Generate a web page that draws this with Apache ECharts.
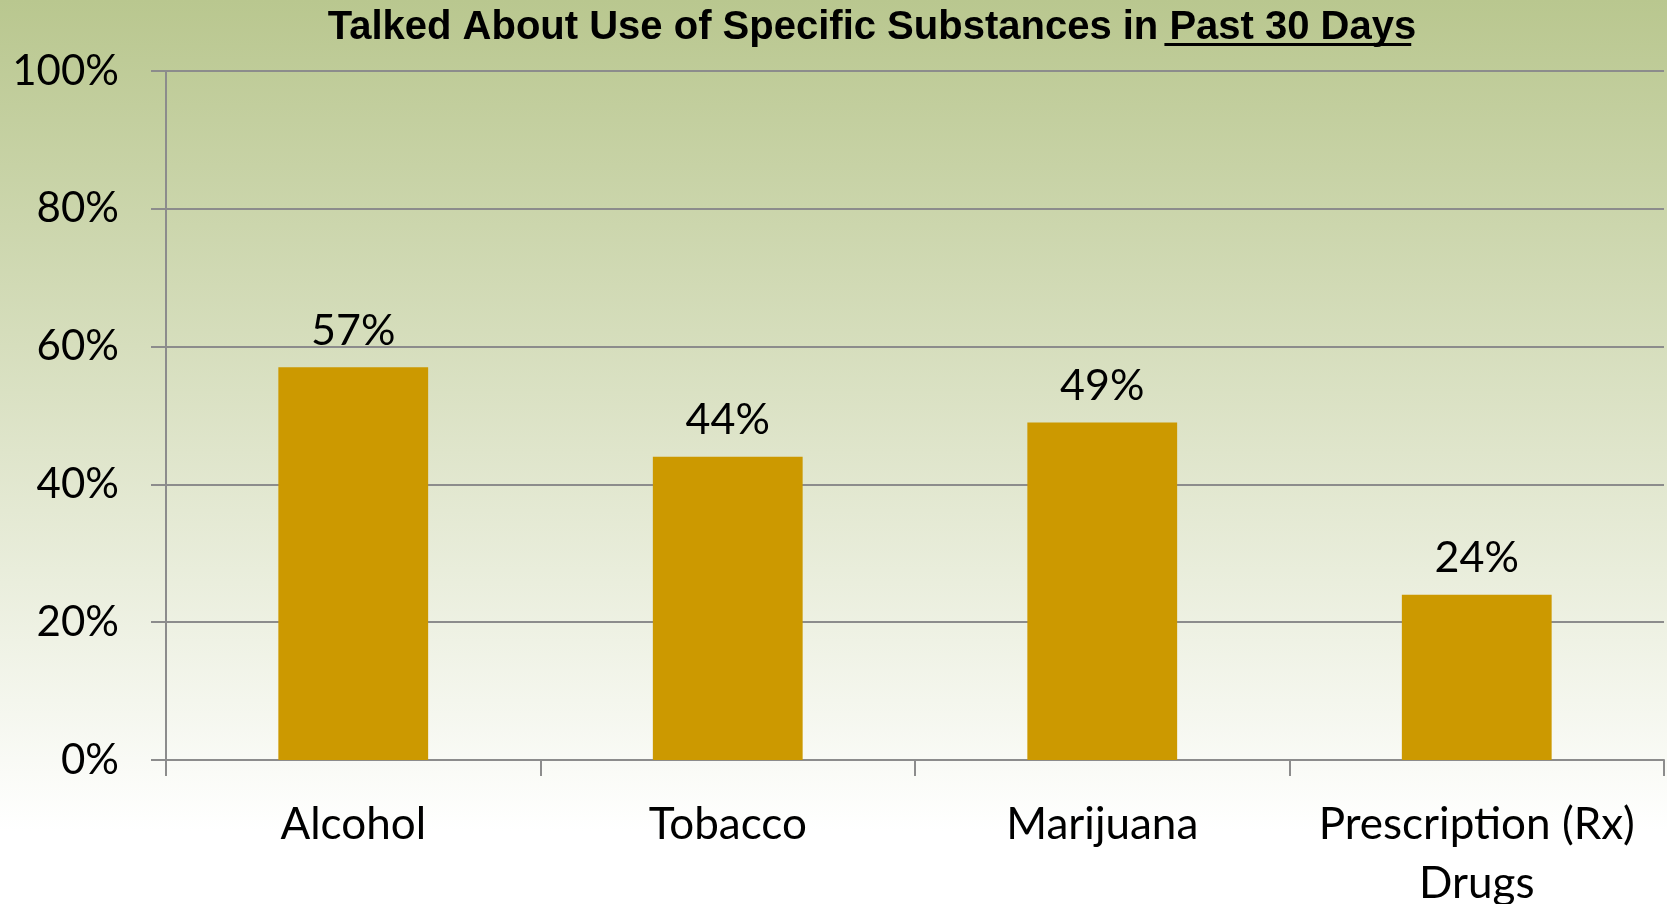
<!DOCTYPE html>
<html>
<head>
<meta charset="utf-8">
<script src="https://cdn.jsdelivr.net/npm/echarts@6/dist/echarts.min.js"></script>
<style>
  html, body { margin: 0; padding: 0; }
  #chart { width: 1667px; height: 904px; }
</style>
</head>
<body>
<div id="chart"></div>
<script>
// Share of respondents who talked about each substance in the past 30 days
const categories = ['Alcohol', 'Tobacco', 'Marijuana', 'Prescription (Rx)\nDrugs'];
const values = [57, 44, 49, 24];
const yTicks = [0, 20, 40, 60, 80, 100];

const titleMain = 'Talked About Use of Specific Substances in ';
const titleUnderlined = 'Past 30 Days';
const titleFamily = '"Liberation Sans Narrow", "Liberation Sans", sans-serif';
const titleSize = 40;
const labelFont = 'Lato, "Open Sans", sans-serif';

const chart = echarts.init(document.getElementById('chart'));

// measure title pieces so the underline sits under the last part only
const ctx = document.createElement('canvas').getContext('2d');
ctx.font = 'bold ' + titleSize + 'px ' + titleFamily;
const wMain = ctx.measureText(titleMain).width;
const wUnder = ctx.measureText(titleUnderlined).width;
const titleCenter = 867;
const titleLeft = titleCenter - (wMain + wUnder) / 2;

chart.setOption({
  backgroundColor: {
    type: 'linear', x: 0, y: 0, x2: 0, y2: 1,
    colorStops: [
      { offset: 0, color: '#b9c78f' },
      { offset: 0.5, color: '#dfe5cb' },
      { offset: 0.92, color: '#ffffff' },
      { offset: 1, color: '#ffffff' }
    ]
  },
  animation: false,
  title: {
    text: titleMain + titleUnderlined,
    left: titleLeft,
    top: 3,
    textStyle: {
      fontFamily: titleFamily,
      fontWeight: 'bold',
      fontSize: titleSize,
      color: '#000000'
    }
  },
  graphic: [{
    type: 'rect',
    shape: { x: titleLeft + wMain, y: 43, width: wUnder, height: 3 },
    style: { fill: '#000000' }
  }],
  grid: { left: 166, right: 3, top: 71, bottom: 144, outerBoundsMode: 'none' },
  xAxis: {
    type: 'category',
    data: categories,
    axisLine: { lineStyle: { color: '#8c8c8c', width: 2 } },
    axisTick: { show: true, length: 16, lineStyle: { color: '#8c8c8c', width: 2 } },
    axisLabel: {
      color: '#000000', fontFamily: labelFont, fontSize: 44,
      margin: 35, lineHeight: 59, interval: 0
    }
  },
  yAxis: {
    type: 'value',
    min: yTicks[0], max: yTicks[yTicks.length - 1], interval: 20,
    axisLine: { show: true, lineStyle: { color: '#8c8c8c', width: 2 } },
    axisTick: { show: true, length: 15, lineStyle: { color: '#8c8c8c', width: 2 } },
    splitLine: { lineStyle: { color: '#8c8c8c', width: 2 } },
    axisLabel: {
      color: '#000000', fontFamily: labelFont, fontSize: 42, margin: 47,
      formatter: v => v + '%'
    }
  },
  series: [{
    type: 'bar',
    data: values,
    barWidth: '40%',
    itemStyle: { color: '#cc9900' },
    label: {
      show: true, position: 'top', distance: 15,
      color: '#000000', fontFamily: labelFont, fontSize: 43,
      formatter: p => p.value + '%'
    }
  }]
});
</script>
</body>
</html>
